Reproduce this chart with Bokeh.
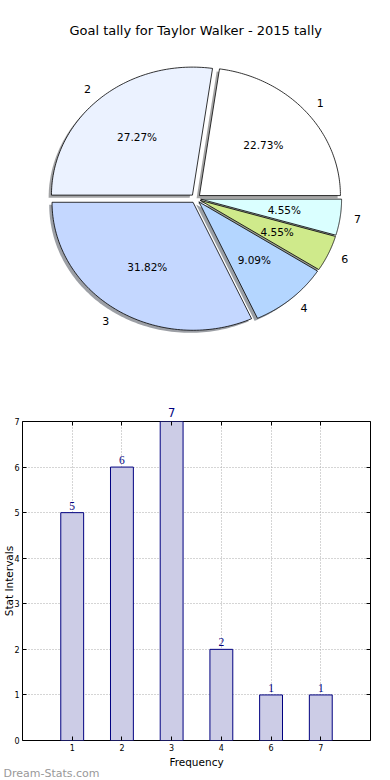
import numpy as np
from bokeh.plotting import figure
from bokeh.models import ColumnDataSource, Label, LabelSet, FixedTicker, LinearAxis, Range1d, Title
from bokeh.embed import file_html
from bokeh.resources import INLINE

# ---------------- data ----------------
title = "Goal tally for Taylor Walker - 2015 tally"
categories = ["1", "2", "3", "4", "6", "7"]
counts = [5, 6, 7, 2, 1, 1]
slice_colors = ["#FFFFFF", "#EBF2FF", "#C4D7FF", "#B4D6FF", "#CFEA8B", "#DAFFFF"]
x_label = "Frequency"
y_label = "Stat Intervals"
y_ticks = [0, 1, 2, 3, 4, 5, 6, 7]
watermark = "Dream-Stats.com"

FONT = "DejaVu Sans"
W = 390
PIE_H = 400
BAR_H = 380

# ---------------- pie ----------------
RX, RY = 141.0, 128.0          # pixel radius in x / y (elliptical pie)
CX, CY = 195.2, 198.0          # centre in canvas px (from left / from top)
EXPLODE = 0.035
SHADOW = 0.02

p1 = figure(width=W, height=PIE_H, title=None,
            x_range=Range1d(-CX / RX, (W - CX) / RX),
            y_range=Range1d(-(PIE_H - CY) / RY, CY / RY),
            x_axis_location=None, y_axis_location=None,
            output_backend="svg", toolbar_location=None, min_border=0)
p1.grid.visible = False
p1.outline_line_color = None
p1.background_fill_color = "white"

total = float(sum(counts))
fracs = np.array(counts) / total
ends = np.cumsum(fracs) * 2 * np.pi
starts = np.concatenate([[0.0], ends[:-1]])
mids = (starts + ends) / 2

wx, wy, sx, sy, shc = [], [], [], [], []
for a0, a1, m, col in zip(starts, ends, mids, slice_colors):
    th = np.linspace(a0, a1, 90)
    ox, oy = EXPLODE * np.cos(m), EXPLODE * np.sin(m)
    xs = np.concatenate([[ox], ox + np.cos(th)])
    ys = np.concatenate([[oy], oy + np.sin(th)])
    wx.append(list(xs)); wy.append(list(ys))
    sx.append(list(xs - SHADOW)); sy.append(list(ys - SHADOW))
    r = int(col[1:3], 16); g = int(col[3:5], 16); b = int(col[5:7], 16)
    shc.append("#%02x%02x%02x" % (int(r * 0.3), int(g * 0.3), int(b * 0.3)))

p1.patches(sx, sy, fill_color=shc, fill_alpha=0.5, line_color=None)
p1.patches(wx, wy, fill_color=slice_colors, line_color="black", line_width=0.8)

lab_x = (1.1 + EXPLODE) * np.cos(mids)
lab_y = (1.1 + EXPLODE) * np.sin(mids)
right = np.cos(mids) > 0
for mask, align in ((right, "left"), (~right, "right")):
    src = ColumnDataSource(dict(x=lab_x[mask], y=lab_y[mask],
                                t=[c for c, k in zip(categories, mask) if k]))
    p1.text("x", "y", text="t", source=src, text_align=align, text_baseline="middle",
            text_font_size="11px", text_color="black", text_font={"value": FONT})

pct_src = ColumnDataSource(dict(
    x=(0.6 + EXPLODE) * np.cos(mids), y=(0.6 + EXPLODE) * np.sin(mids),
    t=["%.2f%%" % (f * 100) for f in fracs]))
p1.text("x", "y", text="t", source=pct_src, text_align="center", text_baseline="middle",
        text_font_size="10.5px", text_color="black", text_font={"value": FONT})

p1.add_layout(Label(x=0, y=PIE_H - 30, y_units="screen", text=title,
                    text_align="center", text_baseline="middle",
                    text_font_size="13px", text_font=FONT, text_color="black"))

# ---------------- bars ----------------
xpos = list(range(1, len(categories) + 1))
ymax = max(y_ticks)
p2 = figure(width=W, height=BAR_H, title=None,
            x_range=Range1d(0, len(categories) + 1), y_range=Range1d(0, ymax),
            output_backend="svg", toolbar_location=None,
            min_border_top=21, min_border_right=20, min_border_bottom=40, min_border_left=19)
p2.background_fill_color = "white"
p2.outline_line_color = "black"
p2.outline_line_width = 1

bsrc = ColumnDataSource(dict(x=xpos, top=counts, t=[str(c) for c in counts]))
p2.vbar(x="x", top="top", width=0.46, source=bsrc,
        fill_color="#CCCCE6", line_color="#000080", line_width=1)
inner = [i for i, c in enumerate(counts) if c < ymax]
lsrc = ColumnDataSource(dict(x=[xpos[i] for i in inner], top=[counts[i] for i in inner],
                             t=[str(counts[i]) for i in inner]))
p2.add_layout(LabelSet(x="x", y="top", text="t", source=lsrc, y_offset=3,
                       text_align="center", text_baseline="bottom",
                       text_font_size="11.5px", text_font=FONT, text_color="#000080"))

xt = FixedTicker(ticks=xpos)
yt = FixedTicker(ticks=y_ticks)
p2.xaxis.ticker = xt
p2.xaxis.major_label_overrides = {x: c for x, c in zip(xpos, categories)}
p2.yaxis.ticker = yt
for ax in (p2.xaxis[0], p2.yaxis[0]):
    ax.axis_line_color = None
    ax.major_tick_in = 4
    ax.major_tick_out = 0
    ax.minor_tick_line_color = None
    ax.major_tick_line_color = "black"
    ax.major_label_text_font_size = "8px"
    ax.major_label_text_font = FONT
    ax.major_label_text_color = "black"
    ax.axis_label_text_font = FONT
    ax.axis_label_text_font_size = "10.5px"
    ax.axis_label_text_font_style = "normal"
    ax.axis_label_text_color = "black"
    ax.major_label_standoff = 3
    ax.axis_label_standoff = 2
p2.xaxis.axis_label = x_label
p2.yaxis.axis_label = y_label
p2.yaxis.major_label_standoff = 3
p2.yaxis.axis_label_standoff = -4

# top axis: inward ticks at every bar, value labels for bars reaching the top
top_ax = LinearAxis(ticker=xt, axis_line_color=None, major_tick_in=4, major_tick_out=0,
                    minor_tick_line_color=None, major_label_standoff=2,
                    major_label_text_font_size="11.5px", major_label_text_font=FONT,
                    major_label_text_color="#000080",
                    major_label_overrides={x: (str(c) if c >= ymax else " ")
                                           for x, c in zip(xpos, counts)})
p2.add_layout(top_ax, "above")
right_ax = LinearAxis(ticker=yt, axis_line_color=None, major_tick_in=4, major_tick_out=0,
                      minor_tick_line_color=None, major_label_standoff=0,
                      major_label_text_font_size="1px",
                      major_label_overrides={t: "" for t in y_ticks})
p2.add_layout(right_ax, "right")

p2.xgrid.ticker = xt
p2.ygrid.ticker = yt
for g in (p2.xgrid[0], p2.ygrid[0]):
    g.grid_line_color = "#aaaaaa"
    g.grid_line_dash = "1 2"
    g.grid_line_width = 1

p2.add_layout(Title(text=watermark, align="left", offset=-19, standoff=-12,
                    text_font_size="11px", text_font=FONT, text_font_style="normal",
                    text_color="#999999"), "below")

open("out.html", "w").write(file_html([p1, p2], INLINE))
